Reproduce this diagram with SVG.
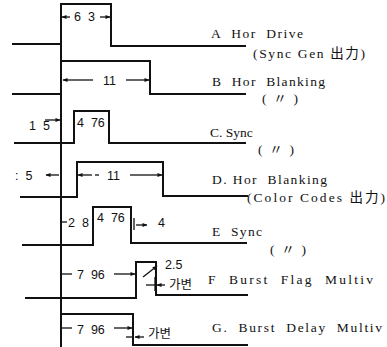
<svg xmlns="http://www.w3.org/2000/svg" width="387" height="347" viewBox="0 0 387 347" xml:space="preserve">
<style>
text{white-space:pre}
.w{fill:none;stroke:#111;stroke-width:2;stroke-linejoin:miter}
.d{fill:none;stroke:#111;stroke-width:1.3}
.n{font-family:"Liberation Sans","Noto Sans CJK KR",sans-serif;font-size:12.5px;fill:#111}
.l{font-family:"Liberation Serif","Noto Sans CJK SC","Noto Sans CJK KR",serif;font-size:13.5px;fill:#111}
</style>
<defs>
<marker id="ah" viewBox="0 0 10 10" refX="9" refY="5" markerWidth="6" markerHeight="5" orient="auto" markerUnits="userSpaceOnUse">
<path d="M0,1 L10,5 L0,9 z" fill="#111"/>
</marker>
</defs>
<rect width="387" height="347" fill="#fff"/>
<g id="connectors">
<line class="w" x1="61" y1="4" x2="61" y2="347"/>
<polyline class="w" points="12,44 61,44 61,4 111,4 111,46 246,46"/>
<polyline class="w" points="12,94 61,94 61,61 150,61 150,94 246,94"/>
<polyline class="w" points="14,143 74,143 74,111 109,111 109,143 246,143"/>
<polyline class="w" points="20,197 77,197 77,162 163,162 163,196 248,196"/>
<polyline class="w" points="22,245 93,245 93,207 131,207 131,243 247,243"/>
<polyline class="w" points="25,298 136,298 136,262 156,262 156,295 248,295"/>
<polyline class="w" points="61,314 133,314 133,345 248,345"/>
<line class="d" x1="70" y1="17" x2="62" y2="17" marker-end="url(#ah)"/>
<line class="d" x1="100" y1="17" x2="110" y2="17" marker-end="url(#ah)"/>
<line class="d" x1="93" y1="80" x2="63" y2="80" marker-end="url(#ah)"/>
<line class="d" x1="126" y1="80" x2="149" y2="80" marker-end="url(#ah)"/>
<line class="d" x1="45" y1="120" x2="60" y2="120" marker-end="url(#ah)"/>
<line class="d" x1="59" y1="175" x2="46" y2="175" marker-end="url(#ah)"/>
<line class="d" x1="92" y1="175" x2="78" y2="175" marker-end="url(#ah)"/>
<line class="d" x1="95" y1="175" x2="99" y2="175"/>
<line class="d" x1="130" y1="175" x2="162" y2="175" marker-end="url(#ah)"/>
<line class="d" x1="62" y1="222" x2="67" y2="222"/>
<line class="d" x1="134" y1="218" x2="134" y2="230"/>
<line class="d" x1="136" y1="225" x2="147" y2="225" marker-end="url(#ah)"/>
<line class="d" x1="62" y1="274" x2="72" y2="274"/>
<line class="d" x1="114" y1="274" x2="135" y2="274" marker-end="url(#ah)"/>
<line class="d" x1="143" y1="277" x2="157" y2="266" marker-end="url(#ah)"/>
<line class="d" x1="146" y1="285" x2="155" y2="285"/>
<line class="d" x1="165" y1="285" x2="157" y2="285" marker-end="url(#ah)"/>
<line class="d" x1="155" y1="277" x2="155" y2="291"/>
<line class="d" x1="62" y1="328" x2="72" y2="328"/>
<line class="d" x1="114" y1="328" x2="132" y2="328" marker-end="url(#ah)"/>
<line class="d" x1="144" y1="337" x2="135" y2="337" marker-end="url(#ah)"/>
<line class="d" x1="126" y1="337" x2="132" y2="337"/>
</g>
<g id="dims">
<text class="n" x="74" y="21">6  3</text>
<text class="n" x="103" y="85">11</text>
<text class="n" x="29" y="130">1  5</text>
<text class="n" x="77" y="127">4  76</text>
<text class="n" x="15" y="180">:  5</text>
<text class="n" x="107" y="180">11</text>
<text class="n" x="68" y="227">2  8</text>
<text class="n" x="97" y="222">4  76</text>
<text class="n" x="158" y="227">4</text>
<text class="n" x="77" y="279">7  96</text>
<text class="n" x="165" y="269">2.5</text>
<text class="n" x="169" y="289">가변</text>
<text class="n" x="77" y="334">7  96</text>
<text class="n" x="148" y="338">가변</text>
</g>
<g id="A"><text class="l" x="211" y="38" textLength="92">A  Hor  Drive</text><text class="l" x="253" y="58" textLength="112">(Sync Gen 出力)</text></g>
<g id="B"><text class="l" x="212" y="86" textLength="113">B  Hor  Blanking</text><text class="l" x="262" y="103">(  〃  )</text></g>
<g id="C"><text class="l" x="210" y="137">C. Sync</text><text class="l" x="258" y="154">(  〃  )</text></g>
<g id="D"><text class="l" x="212" y="184" textLength="115">D. Hor  Blanking</text><text class="l" x="247" y="202" textLength="138">(Color Codes 出力)</text></g>
<g id="E"><text class="l" x="212" y="236" textLength="50">E  Sync</text><text class="l" x="270" y="254">(  〃  )</text></g>
<g id="F"><text class="l" x="208" y="284" textLength="165">F  Burst  Flag  Multiv</text></g>
<g id="G"><text class="l" x="212" y="332" textLength="170">G.  Burst  Delay  Multiv</text></g>
</svg>
